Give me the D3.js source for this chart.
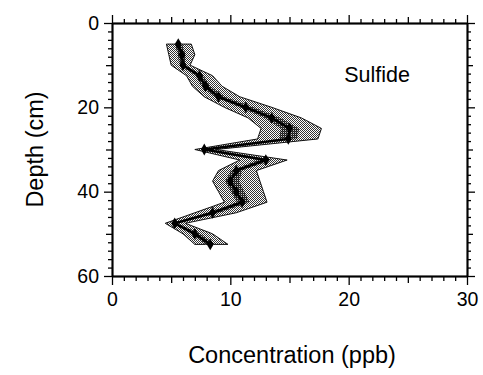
<!DOCTYPE html>
<html><head><meta charset="utf-8">
<script src="https://cdn.jsdelivr.net/npm/d3@7"></script>
<style>
html,body{margin:0;padding:0;background:#fff;}
svg{display:block;font-family:"Liberation Sans",Arial,sans-serif;}
</style></head>
<body>
<svg id="chart" width="483" height="375"></svg>
<script>
// Data
const depths = [5, 7.5, 10, 12.5, 15, 17.5, 20, 22.5, 25, 27.5, 30, 32.5, 35, 37.5, 40, 42.5, 45, 47.5, 50, 52.5];
const center = [5.6, 5.9, 6.0, 7.4, 7.9, 9.0, 11.3, 13.5, 15.0, 14.9, 7.8, 13.0, 10.5, 10.0, 10.5, 11.0, 8.5, 5.3, 7.0, 8.3];
const lower  = [4.6, 4.8, 5.0, 6.3, 6.8, 7.8, 9.5, 11.5, 12.6, 12.3, 7.0, 10.8, 9.0, 8.5, 9.0, 9.5, 7.0, 4.5, 6.0, 7.0];
const upper  = [6.7, 7.0, 6.6, 8.5, 9.3, 10.8, 13.5, 16.0, 17.7, 17.4, 8.8, 14.8, 12.2, 12.5, 12.8, 13.1, 10.5, 6.2, 8.5, 9.8];
const xTicks = [0, 10, 20, 30];
const yTicks = [0, 20, 40, 60];
const seriesLabel = "Sulfide";
const xTitle = "Concentration (ppb)";
const yTitle = "Depth (cm)";

const rows = depths.map((d, i) => ({d, c: center[i], lo: lower[i], hi: upper[i]}));

const svg = d3.select("#chart");
const x = d3.scaleLinear().domain([0, 30]).range([112, 467]);
const y = d3.scaleLinear().domain([0, 60]).range([23, 276]);

// stipple patterns
const defs = svg.append("defs");
const p1 = defs.append("pattern").attr("id", "stip").attr("width", 2).attr("height", 2).attr("patternUnits", "userSpaceOnUse");
p1.append("rect").attr("width", 2).attr("height", 2).attr("fill", "#fff");
p1.append("rect").attr("x", 0).attr("y", 0).attr("width", 1).attr("height", 1).attr("fill", "#333");
p1.append("rect").attr("x", 1).attr("y", 1).attr("width", 1).attr("height", 1).attr("fill", "#333");
const p2 = defs.append("pattern").attr("id", "stipDark").attr("width", 2).attr("height", 2).attr("patternUnits", "userSpaceOnUse");
p2.append("rect").attr("width", 2).attr("height", 2).attr("fill", "#111");
p2.append("rect").attr("x", 1).attr("y", 0).attr("width", 1).attr("height", 1).attr("fill", "#bbb");

// band
const area = d3.area().x0(r => x(r.lo)).x1(r => x(r.hi)).y(r => y(r.d));
svg.append("path").datum(rows).attr("d", area)
  .attr("fill", "url(#stip)").attr("stroke", "#111").attr("stroke-width", 1).attr("stroke-linejoin", "miter");
const innerArea = d3.area()
  .x0(r => x(r.c - 0.3 * (r.c - r.lo)))
  .x1(r => x(r.c + 0.3 * (r.hi - r.c)))
  .y(r => y(r.d));
svg.append("path").datum(rows).attr("d", innerArea).attr("fill", "url(#stipDark)").attr("opacity", 0.8);

// centre line
svg.append("path").datum(rows)
  .attr("d", d3.line().x(r => x(r.c)).y(r => y(r.d)))
  .attr("fill", "none").attr("stroke", "#000").attr("stroke-width", 2.5);
svg.selectAll(".mk").data(rows).enter().append("path")
  .attr("transform", r => `translate(${x(r.c)},${y(r.d)})`)
  .attr("d", d3.symbol().type(d3.symbolDiamond).size(40))
  .attr("fill", "#000");

// axes helper
function drawAxis(axisFn, scale, transform, values, size, fmt) {
  const a = axisFn(scale).tickValues(values).tickSizeInner(size).tickSizeOuter(0).tickPadding(4);
  a.tickFormat(fmt ? fmt : () => "");
  const g = svg.append("g").attr("transform", transform).call(a);
  g.selectAll("path.domain").attr("stroke", "#000").attr("stroke-width", 1.5);
  g.selectAll(".tick line").attr("stroke", "#000").attr("stroke-width", 1.3);
  return g;
}
const minorX = d3.range(0, 31, 1).filter(v => v % 5 !== 0);
const midX = [5, 15, 25];
const minorY = d3.range(0, 61, 2).filter(v => v % 10 !== 0);
const midY = [10, 30, 50];

// bottom
drawAxis(d3.axisBottom, x, `translate(0,${y(60)})`, minorX, 5);
drawAxis(d3.axisBottom, x, `translate(0,${y(60)})`, midX, 7);
const gb = drawAxis(d3.axisBottom, x, `translate(0,${y(60)})`, xTicks, 9, d3.format("d"));
gb.selectAll("text").attr("font-size", 19.5).attr("font-family", "Liberation Sans, Arial, sans-serif").attr("fill", "#000").attr("dy", "0.85em");
// top
drawAxis(d3.axisTop, x, `translate(0,${y(0)})`, minorX, 4);
drawAxis(d3.axisTop, x, `translate(0,${y(0)})`, midX, 6);
drawAxis(d3.axisTop, x, `translate(0,${y(0)})`, xTicks, 8);
// left
drawAxis(d3.axisLeft, y, `translate(${x(0)},0)`, minorY, 4);
drawAxis(d3.axisLeft, y, `translate(${x(0)},0)`, midY, 6);
const gl = drawAxis(d3.axisLeft, y, `translate(${x(0)},0)`, yTicks, 8, d3.format("d"));
gl.selectAll("text").attr("font-size", 19.5).attr("font-family", "Liberation Sans, Arial, sans-serif").attr("fill", "#000").attr("dx", "-1");
// right
drawAxis(d3.axisRight, y, `translate(${x(30)},0)`, minorY, 4);
drawAxis(d3.axisRight, y, `translate(${x(30)},0)`, midY, 6);
drawAxis(d3.axisRight, y, `translate(${x(30)},0)`, yTicks, 8);

// texts
svg.append("text").attr("x", 377).attr("y", 82).attr("text-anchor", "middle")
  .attr("font-size", 21.5).attr("fill", "#000").text(seriesLabel);
svg.append("text").attr("x", 292).attr("y", 363).attr("text-anchor", "middle")
  .attr("font-size", 23.5).attr("fill", "#000").text(xTitle);
svg.append("text").attr("transform", `translate(43,${(y(0) + y(60)) / 2}) rotate(-90)`)
  .attr("text-anchor", "middle").attr("font-size", 23.5).attr("fill", "#000").text(yTitle);
</script>
</body></html>
